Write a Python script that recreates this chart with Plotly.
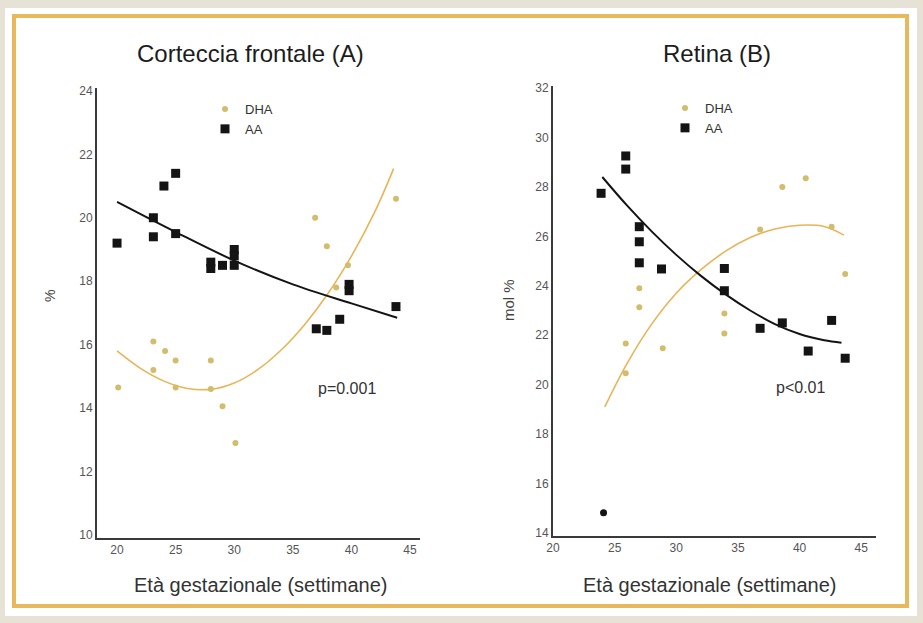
import plotly.graph_objects as go

W, H = 923, 623

# ---- Corteccia frontale (A): % of total fatty acids ----
a_aa_x = [20.0, 23.1, 23.1, 24.0, 25.0, 25.0, 28.0, 28.0, 29.0, 30.0, 30.0, 30.0, 37.0, 37.9, 39.0, 39.8, 39.8, 43.8]
a_aa_y = [19.2, 20.0, 19.4, 21.0, 21.4, 19.5, 18.6, 18.4, 18.5, 19.0, 18.8, 18.5, 16.5, 16.45, 16.8, 17.9, 17.7, 17.2]
a_dha_x = [20.1, 23.1, 23.1, 24.1, 25.0, 25.0, 28.0, 28.0, 29.0, 30.1, 36.9, 37.9, 38.7, 39.7, 43.8]
a_dha_y = [14.65, 16.1, 15.2, 15.8, 15.5, 14.65, 15.5, 14.6, 14.06, 12.9, 20.0, 19.1, 17.8, 18.5, 20.6]
a_aa_fit_x = [20, 25, 30, 35, 40, 43.9]
a_aa_fit_y = [20.5, 19.55, 18.65, 17.9, 17.3, 16.85]
a_dha_fit_x = [20, 22, 24, 26, 28, 30, 32, 34, 36, 38, 40, 42, 43.6]
a_dha_fit_y = [15.8, 15.25, 14.85, 14.62, 14.59, 14.79, 15.21, 15.83, 16.63, 17.61, 18.79, 20.19, 21.55]

# ---- Retina (B): mol % ----
b_aa_x = [23.9, 25.9, 25.9, 27.0, 27.0, 27.0, 28.8, 33.9, 33.9, 36.8, 38.6, 40.7, 42.6, 43.7]
b_aa_y = [27.74, 29.25, 28.72, 26.39, 25.78, 24.93, 24.68, 24.7, 23.8, 22.28, 22.5, 21.36, 22.6, 21.07]
b_low_x = [24.1]
b_low_y = [14.82]
b_dha_x = [25.9, 25.9, 27.0, 27.0, 28.9, 33.9, 33.9, 36.8, 38.6, 40.5, 42.6, 43.7]
b_dha_y = [20.46, 21.67, 23.9, 23.13, 21.47, 22.88, 22.07, 26.28, 28.0, 28.35, 26.39, 24.48]
b_aa_fit_x = [24, 26, 28, 30, 32, 34, 36, 38, 40, 42, 43.4]
b_aa_fit_y = [28.4, 27.25, 26.2, 25.25, 24.4, 23.65, 23.0, 22.45, 22.05, 21.8, 21.7]
b_dha_fit_x = [24.2, 26, 28, 30, 32, 34, 36, 38, 40, 42, 43.6]
b_dha_fit_y = [19.1, 20.85, 22.45, 23.7, 24.65, 25.4, 25.95, 26.3, 26.45, 26.4, 26.05]

x_ticks = [20, 25, 30, 35, 40, 45]
a_y_ticks = [10, 12, 14, 16, 18, 20, 22, 24]
b_y_ticks = [14, 16, 18, 20, 22, 24, 26, 28, 30, 32]

DHA_COL = "#d2bd6c"
DHA_LINE = "#e8b458"
AA_COL = "#141414"
FONT = "Liberation Sans"


def px(x):
    return x / W


def py(y):
    return 1 - y / H


fig = go.Figure()

# panel A
fig.add_trace(go.Scatter(x=a_dha_fit_x, y=a_dha_fit_y, mode="lines", line=dict(color=DHA_LINE, width=1.6, shape="spline"),
                         xaxis="x", yaxis="y", showlegend=False, hoverinfo="skip"))
fig.add_trace(go.Scatter(x=a_aa_fit_x, y=a_aa_fit_y, mode="lines", line=dict(color=AA_COL, width=2, shape="spline"),
                         xaxis="x", yaxis="y", showlegend=False, hoverinfo="skip"))
fig.add_trace(go.Scatter(x=a_dha_x, y=a_dha_y, mode="markers", name="DHA",
                         marker=dict(symbol="circle", size=6, color=DHA_COL), xaxis="x", yaxis="y", legend="legend"))
fig.add_trace(go.Scatter(x=a_aa_x, y=a_aa_y, mode="markers", name="AA",
                         marker=dict(symbol="square", size=9, color=AA_COL), xaxis="x", yaxis="y", legend="legend"))

# panel B
fig.add_trace(go.Scatter(x=b_dha_fit_x, y=b_dha_fit_y, mode="lines", line=dict(color=DHA_LINE, width=1.6, shape="spline"),
                         xaxis="x2", yaxis="y2", showlegend=False, hoverinfo="skip"))
fig.add_trace(go.Scatter(x=b_aa_fit_x, y=b_aa_fit_y, mode="lines", line=dict(color=AA_COL, width=2, shape="spline"),
                         xaxis="x2", yaxis="y2", showlegend=False, hoverinfo="skip"))
fig.add_trace(go.Scatter(x=b_dha_x, y=b_dha_y, mode="markers", name="DHA",
                         marker=dict(symbol="circle", size=6, color=DHA_COL), xaxis="x2", yaxis="y2", legend="legend2"))
fig.add_trace(go.Scatter(x=b_aa_x, y=b_aa_y, mode="markers", name="AA",
                         marker=dict(symbol="square", size=9, color=AA_COL), xaxis="x2", yaxis="y2", legend="legend2"))
fig.add_trace(go.Scatter(x=b_low_x, y=b_low_y, mode="markers", showlegend=False,
                         marker=dict(symbol="circle", size=7, color=AA_COL), xaxis="x2", yaxis="y2"))

axis_common = dict(showgrid=False, zeroline=False, showline=True, linecolor="#3a3a3a", linewidth=2,
                   ticks="", automargin=False, tickfont=dict(family=FONT, size=12, color="#555555"),
                   fixedrange=True)


def note(text, x, y, size, color="#333333", angle=0):
    return dict(text=text, x=px(x), y=py(y), xref="paper", yref="paper", showarrow=False,
                xanchor="center", yanchor="middle", textangle=angle,
                font=dict(family=FONT, size=size, color=color))


fig.update_layout(
    width=W, height=H,
    margin=dict(l=0, r=0, t=0, b=0, pad=0),
    paper_bgcolor="#e6e2d5",
    plot_bgcolor="white",
    font=dict(family=FONT, color="#222222"),
    xaxis=dict(domain=[px(97), px(420)], range=[18.29, 45.85], tickvals=x_ticks, anchor="y", **axis_common),
    yaxis=dict(domain=[py(538), py(88)], range=[9.905, 24.09], tickvals=a_y_ticks, anchor="x", **axis_common),
    xaxis2=dict(domain=[px(553), px(876)], range=[20.0, 46.2], tickvals=x_ticks, anchor="y2", **axis_common),
    yaxis2=dict(domain=[py(536), py(86)], range=[13.88, 32.08], tickvals=b_y_ticks, anchor="x2", **axis_common),
    legend=dict(x=px(205), y=py(94), xanchor="left", yanchor="top", bgcolor="rgba(0,0,0,0)",
                font=dict(family=FONT, size=13, color="#333333"), itemwidth=30, tracegroupgap=0),
    legend2=dict(x=px(665), y=py(93), xanchor="left", yanchor="top", bgcolor="rgba(0,0,0,0)",
                 font=dict(family=FONT, size=13, color="#333333"), itemwidth=30, tracegroupgap=0),
    shapes=[
        dict(type="rect", xref="paper", yref="paper", x0=px(5), x1=px(917), y0=py(616), y1=py(8),
             fillcolor="white", line=dict(width=0), layer="below"),
        dict(type="rect", xref="paper", yref="paper", x0=px(14), x1=px(907), y0=py(606), y1=py(16),
             fillcolor="rgba(0,0,0,0)", line=dict(color="#e8b95c", width=4), layer="below"),
    ],
    annotations=[
        note("Corteccia frontale (A)", 250, 53, 24, "#1c1c1c"),
        note("Retina (B)", 717, 53, 24, "#1c1c1c"),
        note("Età gestazionale (settimane)", 260, 585, 20),
        note("Età gestazionale (settimane)", 709, 585, 20),
        note("%", 50, 296, 14, "#444444", -90),
        note("mol %", 508, 300, 15, "#444444", -90),
        note("p=0.001", 347, 388, 16),
        note("p<0.01", 800, 387, 16),
    ],
)

fig.write_html("out.html")
